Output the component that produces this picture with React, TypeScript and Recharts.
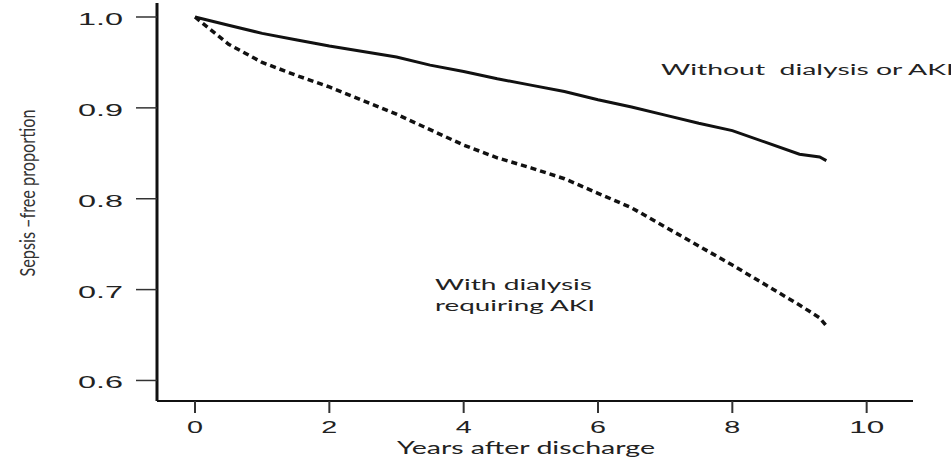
import React from 'react';
import { LineChart, Line, XAxis, YAxis } from 'recharts';

const years = [0, 0.5, 1, 1.5, 2, 2.5, 3, 3.5, 4, 4.5, 5, 5.5, 6, 6.5, 7, 7.5, 8, 8.5, 9, 9.3, 9.4];
const withoutAki = [1.0, 0.991, 0.982, 0.975, 0.968, 0.962, 0.956, 0.947, 0.94, 0.932, 0.925, 0.918, 0.909, 0.901, 0.892, 0.883, 0.875, 0.862, 0.849, 0.846, 0.842];
const withDialysisAki = [1.0, 0.97, 0.95, 0.936, 0.923, 0.908, 0.893, 0.876, 0.859, 0.845, 0.834, 0.822, 0.806, 0.79, 0.769, 0.748, 0.727, 0.705, 0.683, 0.669, 0.66];
const xTicks = [0, 2, 4, 6, 8, 10];
const yTicks = [0.6, 0.7, 0.8, 0.9, 1.0];

const data = years.map((year, i) => ({
  year,
  without: withoutAki[i],
  dialysis: withDialysisAki[i],
}));

const TEXT = '#222';
const TICK_FONT = '"Liberation Sans", Arial, sans-serif';
const LABEL_FONT = 'Lato, "Open Sans", sans-serif';

const YTick = (props: any) => {
  const { x, y, payload } = props;
  return (
    <text x={x} y={y + 8} textAnchor="end" fontFamily={TICK_FONT} fontSize={17} fill={TEXT}
      textLength={45} lengthAdjust="spacingAndGlyphs">
      {Number(payload.value).toFixed(1)}
    </text>
  );
};

const XTick = (props: any) => {
  const { x, y, payload } = props;
  const label = String(payload.value);
  return (
    <text x={x} y={y + 16} textAnchor="middle" fontFamily={TICK_FONT} fontSize={17} fill={TEXT}
      textLength={label.length > 1 ? 35 : 16} lengthAdjust="spacingAndGlyphs">
      {label}
    </text>
  );
};

export default function App() {
  return (
    <div style={{ position: 'absolute', left: 0, top: 0, width: 951, height: 461, background: '#fff', overflow: 'hidden' }}>
      <LineChart width={951} height={461} data={data} margin={{ top: 3, right: 38, bottom: 30, left: 97 }}>
        <XAxis
          dataKey="year"
          type="number"
          domain={[-0.566, 10.69]}
          ticks={xTicks}
          allowDataOverflow
          height={30}
          axisLine={{ stroke: '#111', strokeWidth: 2 }}
          tickLine={{ stroke: '#333', strokeWidth: 2 }}
          tickSize={12}
          tickMargin={4}
          tick={<XTick />}
        />
        <YAxis
          type="number"
          domain={[0.5774, 1.0154]}
          ticks={yTicks}
          allowDataOverflow
          width={60}
          axisLine={{ stroke: '#111', strokeWidth: 3 }}
          tickLine={{ stroke: '#333', strokeWidth: 1.5 }}
          tickSize={21}
          tickMargin={13}
          tick={<YTick />}
        />
        <Line type="linear" dataKey="without" stroke="#111" strokeWidth={3} dot={false} isAnimationActive={false} />
        <Line type="linear" dataKey="dialysis" stroke="#111" strokeWidth={3.5} strokeDasharray="6 4" dot={false} isAnimationActive={false} />
      </LineChart>
      <svg width={951} height={461} style={{ position: 'absolute', left: 0, top: 0, pointerEvents: 'none' }}>
        <text x={661} y={75} fontFamily={LABEL_FONT} fontSize={14.5} fill={TEXT} textLength={293}
          lengthAdjust="spacingAndGlyphs" style={{ whiteSpace: 'pre' }}>
          {'Without  dialysis or AKI'}
        </text>
        <text x={435} y={290} fontFamily={LABEL_FONT} fontSize={14.5} fill={TEXT} textLength={157} lengthAdjust="spacingAndGlyphs">
          With dialysis
        </text>
        <text x={435} y={311} fontFamily={LABEL_FONT} fontSize={14.5} fill={TEXT} textLength={160} lengthAdjust="spacingAndGlyphs">
          requiring AKI
        </text>
        <text x={526} y={454} textAnchor="middle" fontFamily={LABEL_FONT} fontSize={17} fill={TEXT} textLength={258}
          lengthAdjust="spacingAndGlyphs">
          Years after discharge
        </text>
        <text transform="translate(35,193) rotate(-90)" textAnchor="middle" fontFamily={LABEL_FONT} fontSize={21}
          fill="#333" textLength={167} lengthAdjust="spacingAndGlyphs">
          Sepsis –free proportion
        </text>
      </svg>
    </div>
  );
}
